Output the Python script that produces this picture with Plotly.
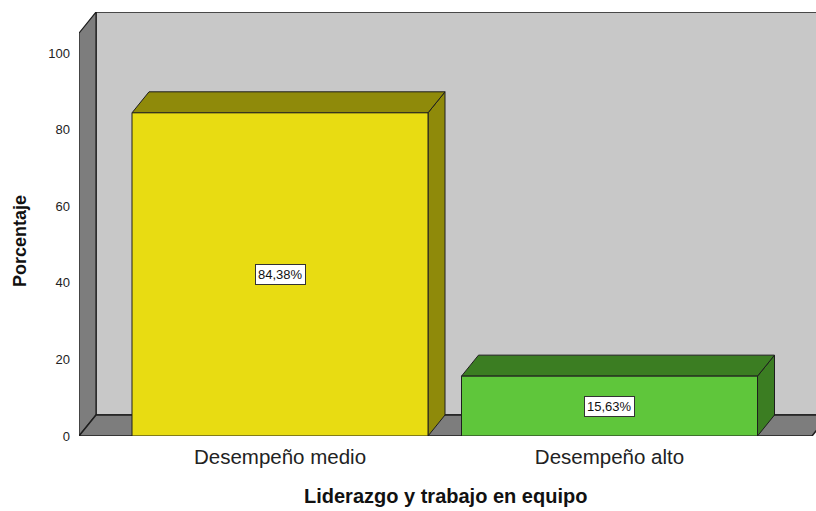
import plotly.graph_objects as go

# ---- data ----
categories = ["Desempeño medio", "Desempeño alto"]
values = [84.38, 15.63]
y_ticks = [0, 20, 40, 60, 80, 100]
x_title = "Liderazgo y trabajo en equipo"
y_title = "Porcentaje"

# ---- styling / geometry ----
front_colors = ["#E8DC12", "#5FC63B"]
shade_colors = ["#8F8A0A", "#3B7D22"]
WALL_BACK = "#C8C8C8"
WALL_SIDE = "#7D7D7D"
EDGE = "#1E1E1E"

W, H = 816, 511
ML, MT, MB = 79, 12, 75
X_PX = 329.5            # pixels per category step
X0_PX = 280 - ML        # pixel offset of first category from plot left
Y_PX = 3.83             # pixels per percent
DX = 17 / X_PX          # depth offset in x units
DY = 21 / Y_PX          # depth offset in y units
WALL_TOP = 105.2
BAR_W = 296 / X_PX

x_lo = -X0_PX / X_PX
x_hi = x_lo + (W - ML) / X_PX
y_hi = (H - MT - MB) / Y_PX
x_floor_end = (812 - 280) / X_PX
PLOT_H = H - MT - MB
PLOT_W = W - ML

xs = list(range(len(categories)))

fig = go.Figure()
fig.add_trace(go.Bar(
    x=xs, y=values, width=BAR_W,
    marker=dict(color=front_colors, line=dict(color=EDGE, width=1)),
    hoverinfo="skip",
))

def path(pts):
    return "M " + " L ".join(f"{a},{b}" for a, b in pts) + " Z"

shapes = []
# back wall
shapes.append(dict(type="path", xref="x", yref="y", layer="below",
                   path=path([(x_lo + DX, DY), (x_hi + 1, DY), (x_hi + 1, WALL_TOP + DY), (x_lo + DX, WALL_TOP + DY)]),
                   fillcolor=WALL_BACK, line=dict(color=EDGE, width=1.5)))
# left wall
shapes.append(dict(type="path", xref="x", yref="y", layer="below",
                   path=path([(x_lo, 0), (x_lo + DX, DY), (x_lo + DX, WALL_TOP + DY), (x_lo, WALL_TOP)]),
                   fillcolor=WALL_SIDE, line=dict(color=EDGE, width=1.2)))
# floor
shapes.append(dict(type="path", xref="x", yref="y", layer="below",
                   path=path([(x_lo, 0), (x_lo + DX, DY), (x_floor_end + DX, DY), (x_floor_end, 0)]),
                   fillcolor=WALL_SIDE, line=dict(color=EDGE, width=1.5)))
# bar tops and sides
for xc, v, sc in zip(xs, values, shade_colors):
    l, r = xc - BAR_W / 2, xc + BAR_W / 2
    shapes.append(dict(type="path", xref="x", yref="y", layer="below",
                       path=path([(r, 0), (r + DX, DY), (r + DX, v + DY), (r, v)]),
                       fillcolor=sc, line=dict(color=EDGE, width=1)))
    shapes.append(dict(type="path", xref="x", yref="y", layer="below",
                       path=path([(l, v), (l + DX, v + DY), (r + DX, v + DY), (r, v)]),
                       fillcolor=sc, line=dict(color=EDGE, width=1)))

annotations = []
for xc, v in zip(xs, values):
    annotations.append(dict(x=xc, y=v / 2, xref="x", yref="y",
                            text=f"{v:.2f}".replace(".", ",") + "%", showarrow=False,
                            bgcolor="white", bordercolor="#333333", borderwidth=1, borderpad=2,
                            font=dict(family="Liberation Sans, Arial", size=13, color="#111111")))
annotations.append(dict(x=(445 - ML) / PLOT_W, y=-(496 - (H - MB)) / PLOT_H,
                        xref="paper", yref="paper", text=f"<b>{x_title}</b>", showarrow=False,
                        xanchor="center", yanchor="middle",
                        font=dict(family="Liberation Sans, Arial", size=20, color="#111111")))
annotations.append(dict(x=-(ML - 20) / PLOT_W, y=((H - MB) - 241) / PLOT_H,
                        xref="paper", yref="paper", text=f"<b>{y_title}</b>", showarrow=False,
                        textangle=-90, xanchor="center", yanchor="middle",
                        font=dict(family="Liberation Sans, Arial", size=18, color="#111111")))

fig.update_layout(
    width=W, height=H,
    margin=dict(l=ML, r=0, t=MT, b=MB, pad=0),
    paper_bgcolor="white", plot_bgcolor="white",
    showlegend=False,
    shapes=shapes, annotations=annotations,
    xaxis=dict(range=[x_lo, x_hi], tickvals=xs, ticktext=categories,
               showgrid=False, zeroline=False, showline=False, ticks="",
               ticklabelstandoff=6,
               tickfont=dict(family="Liberation Sans, Arial", size=20.5, color="#222222")),
    yaxis=dict(range=[0, y_hi], tickvals=y_ticks, showgrid=False, zeroline=False,
               showline=False, ticks="", ticklabelstandoff=8,
               tickfont=dict(family="Liberation Sans, Arial", size=13, color="#222222")),
    bargap=0,
)

fig.write_html("out.html", config={"displayModeBar": False, "staticPlot": True},
               post_script="document.body.style.margin='0';document.body.style.overflow='hidden';")
